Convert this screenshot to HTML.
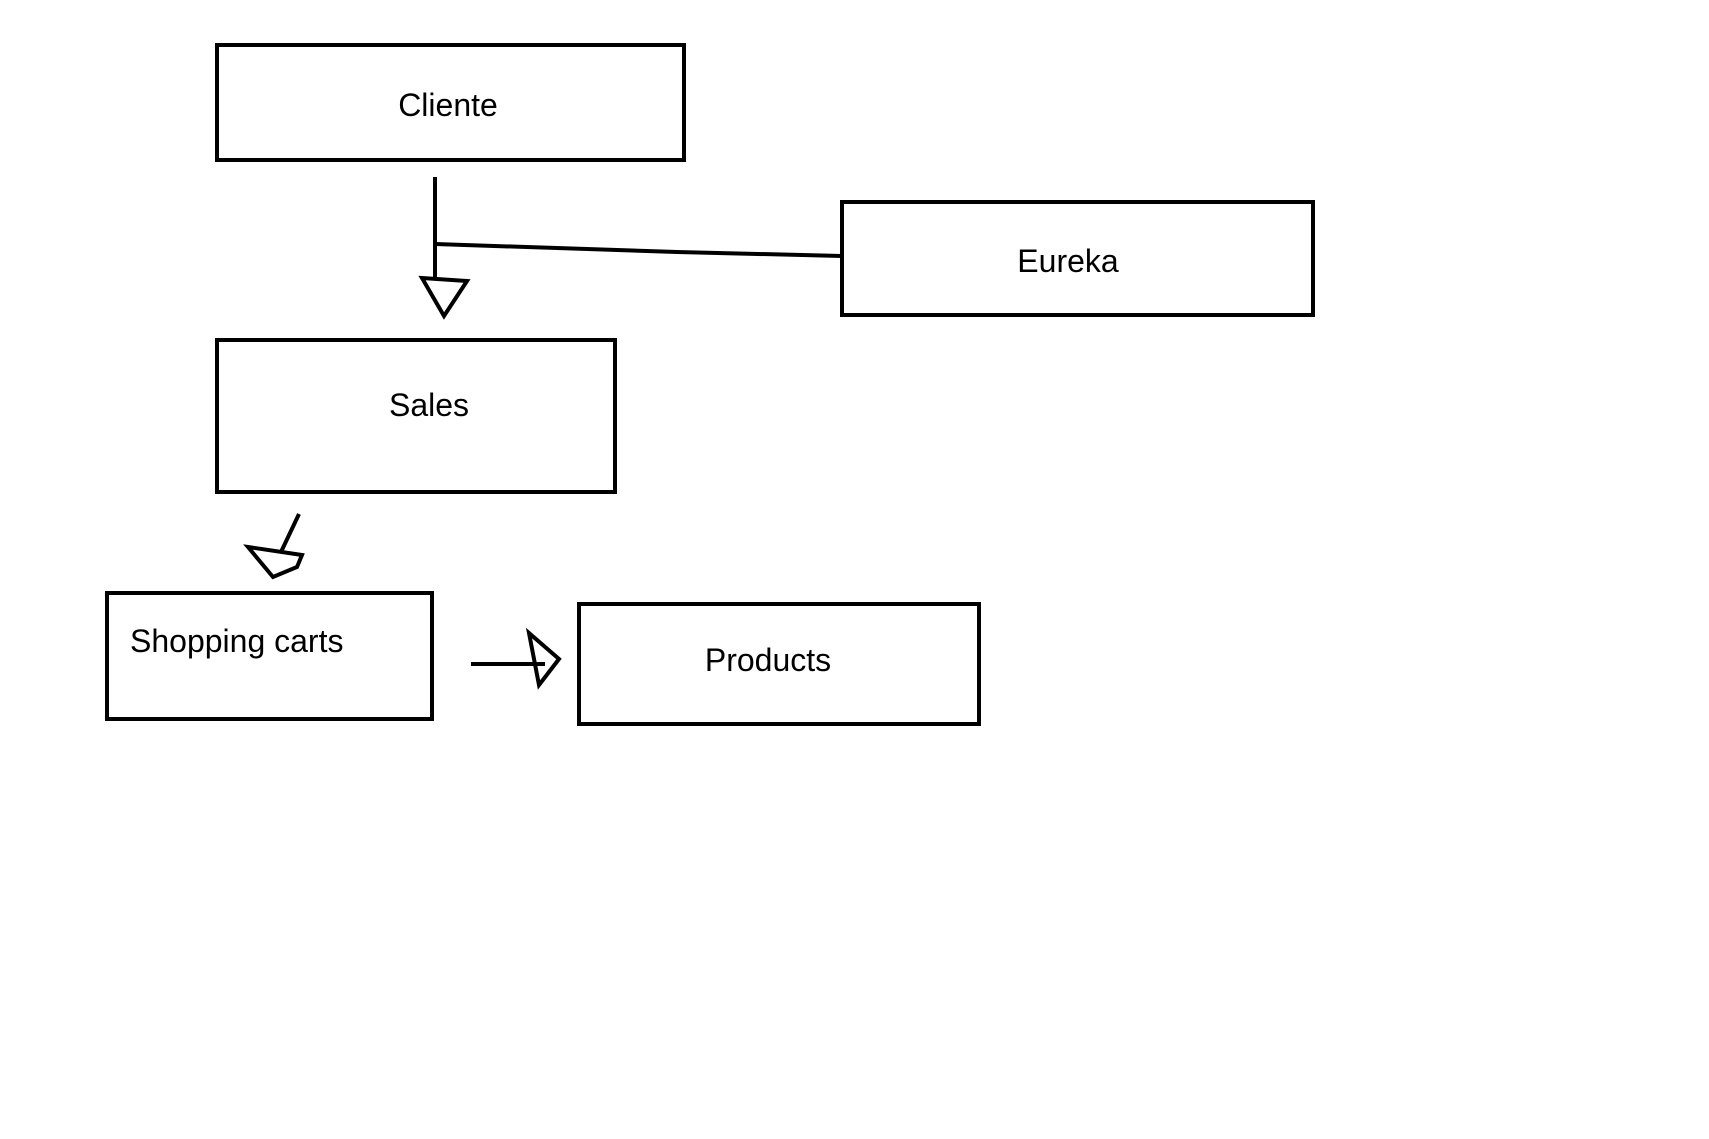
<!DOCTYPE html>
<html><head><meta charset="utf-8"><style>
body{margin:0;background:#fff;}
svg{display:block}
text{font-family:"Liberation Sans",sans-serif;font-size:32px;fill:#000}
</style></head><body>
<svg width="1709" height="1139" viewBox="0 0 1709 1139">
<g transform="translate(-3,-1)">
<g fill="none" stroke="#000" stroke-width="4">
<rect x="220" y="46" width="467" height="115"/>
<rect x="845" y="203" width="471" height="113"/>
<rect x="220" y="341" width="398" height="152"/>
<rect x="110" y="594" width="325" height="126"/>
<rect x="582" y="605" width="400" height="120"/>
<line x1="438" y1="178" x2="438" y2="280"/>
<polyline points="438,245 680,253 845,257"/>
<polygon points="425,279 470,282 447,317"/>
<line x1="302" y1="515" x2="284" y2="553"/>
<polygon points="251,548 305,556 300,568 276,578"/>
<line x1="474" y1="665" x2="548" y2="665"/>
<polygon points="532,634 562,660 542,686"/>
</g>
<text x="451" y="117" text-anchor="middle">Cliente</text>
<text x="1071" y="273" text-anchor="middle">Eureka</text>
<text x="432" y="417" text-anchor="middle">Sales</text>
<text x="133" y="653">Shopping carts</text>
<text x="771" y="672" text-anchor="middle">Products</text>
</g>
</svg>
</body></html>
